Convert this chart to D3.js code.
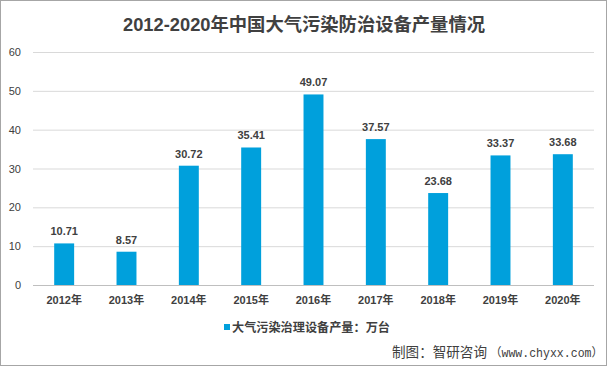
<!DOCTYPE html>
<html><head><meta charset="utf-8">
<script src="https://cdn.jsdelivr.net/npm/d3@7"></script>
<style>body{margin:0;background:#fff;}svg{display:block;}</style>
</head><body>
<script>
const categories = ["2012年","2013年","2014年","2015年","2016年","2017年","2018年","2019年","2020年"];
const values = [10.71, 8.57, 30.72, 35.41, 49.07, 37.57, 23.68, 33.37, 33.68];
const yTicks = [0,10,20,30,40,50,60];
const title = "2012-2020年中国大气污染防治设备产量情况";
const seriesName = "大气污染治理设备产量：万台";
const sourceA = "制图：智研咨询";
const sourceB = "（www.chyxx.com）";

const W = 607, H = 366;
const svg = d3.select("body").append("svg").attr("width", W).attr("height", H);
svg.append("rect").attr("x",0.5).attr("y",0.5).attr("width",W-1).attr("height",H-1)
  .attr("fill","#fff").attr("stroke","#a6a6a6");

const font = "'Liberation Sans', 'Noto Sans CJK SC', sans-serif";
const x = d3.scaleBand().domain(categories).range([33, 594]).paddingInner(0.68).paddingOuter(0.34);
const y = d3.scaleLinear().domain([0,60]).range([285, 52]);

svg.append("g").selectAll("line").data(yTicks).join("line")
  .attr("x1",33).attr("x2",594).attr("y1",d=>y(d)+0.5).attr("y2",d=>y(d)+0.5)
  .attr("stroke",(d)=>d===0?"#bfbfbf":"#d9d9d9").attr("stroke-width",1);

svg.append("g").selectAll("text").data(yTicks).join("text")
  .attr("x",21).attr("y",d=>y(d)+4).attr("text-anchor","end")
  .attr("font-family",font).attr("font-size",11).attr("fill","#404040").text(d=>d);

svg.append("text").attr("x",123).attr("y",31)
  .attr("textLength",362).attr("lengthAdjust","spacingAndGlyphs")
  .attr("font-family",font).attr("font-size",18).attr("font-weight","bold").attr("fill","#404040").text(title);

svg.append("g").selectAll("rect").data(values).join("rect")
  .attr("x",(d,i)=>x(categories[i])).attr("width",x.bandwidth())
  .attr("y",d=>y(d)).attr("height",d=>y(0)-y(d)).attr("fill","#00a0dc");

svg.append("g").selectAll("text").data(values).join("text")
  .attr("x",(d,i)=>x(categories[i])+x.bandwidth()/2).attr("y",d=>y(d)-8)
  .attr("text-anchor","middle").attr("font-family",font).attr("font-size",11).attr("font-weight","bold")
  .attr("fill","#404040").text(d=>d.toFixed(2));

svg.append("g").selectAll("text").data(categories).join("text")
  .attr("x",d=>x(d)+x.bandwidth()/2).attr("y",304)
  .attr("text-anchor","middle").attr("font-family",font).attr("font-size",11).attr("font-weight","bold")
  .attr("fill","#404040").text(d=>d);

svg.append("rect").attr("x",224).attr("y",324).attr("width",6).attr("height",6).attr("fill","#00a0dc");
svg.append("text").attr("x",232).attr("y",332)
  .attr("textLength",158).attr("lengthAdjust","spacingAndGlyphs")
  .attr("font-family",font).attr("font-size",12).attr("font-weight","bold")
  .attr("fill","#404040").text(seriesName);

svg.append("text").attr("x",392).attr("y",357)
  .attr("textLength",95).attr("lengthAdjust","spacingAndGlyphs")
  .attr("font-family","'Noto Sans CJK SC', sans-serif").attr("font-size",14).attr("fill","#404040").text(sourceA);
svg.append("text").attr("x",490).attr("y",357)
  .attr("textLength",113).attr("lengthAdjust","spacingAndGlyphs")
  .attr("font-family","'Liberation Mono', 'Noto Sans CJK SC', monospace").attr("font-size",12).attr("fill","#404040").text(sourceB);
</script>
</body></html>
